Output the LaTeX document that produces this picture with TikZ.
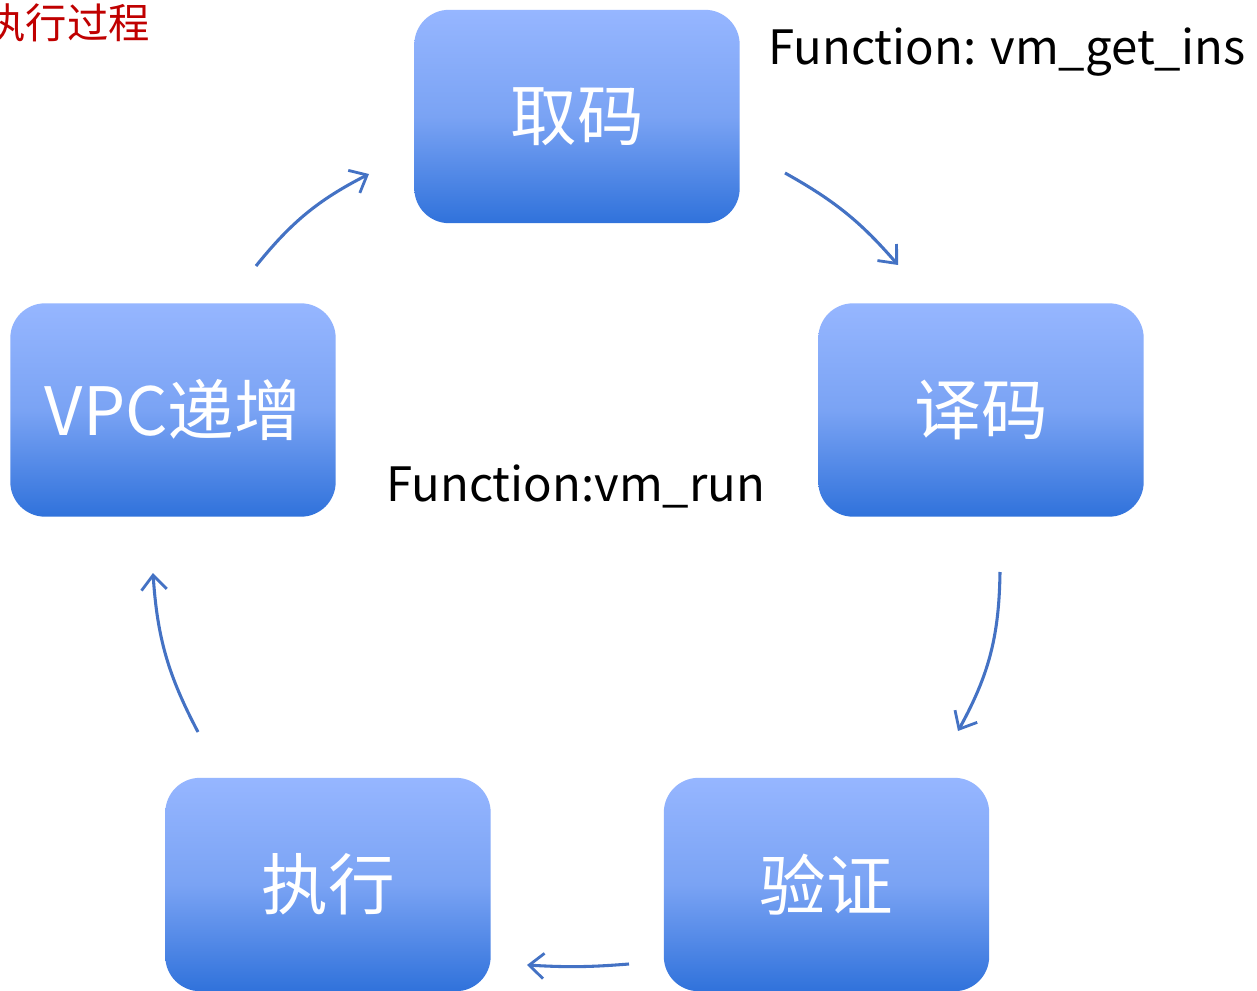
\documentclass[tikz,border=0pt]{standalone}
\usepackage{fontspec}
\setmainfont{Noto Sans CJK SC}
\newfontfamily\cjk{Noto Sans CJK SC}
\usetikzlibrary{arrows.meta}
\definecolor{boxtop}{RGB}{150,182,255}
\definecolor{boxmid}{RGB}{122,163,244}
\definecolor{boxbot}{RGB}{48,114,219}
\definecolor{arrowblue}{RGB}{68,114,196}
\definecolor{titlered}{RGB}{192,0,0}
\tikzset{
  stagebox/.style={rounded corners=26pt, minimum width=244pt, minimum height=160pt,
    top color=boxtop, bottom color=boxbot, middle color=boxmid, inner sep=0pt,
    text=white, font=\cjk\fontsize{50}{60}\selectfont},
  flow/.style={draw=arrowblue, line width=2.3pt, -{Straight Barb[length=11pt,width=19pt,line width=2.1pt]}},
  label/.style={font=\fontsize{35.5}{42}\selectfont, inner sep=0pt, anchor=west}
}
\begin{document}
\begin{tikzpicture}[x=0.75pt,y=-0.75pt]
\useasboundingbox (0,0) rectangle (1257,991);
\fill[white] (0,0) rectangle (1257,991);
\node[stagebox] (fetch) at (577,116.5) {取码};
\node[stagebox] (decode) at (981,410) {译码};
\node[stagebox] (vpc) at (173,410) {VPC递增};
\node[stagebox] (exec) at (328,884.5) {执行};
\node[stagebox] (verify) at (826.5,884.5) {验证};
\node[label] (runlbl) at (386,486) {Function:vm\_run};
\node[label] (getlbl) at (768,52) {Function: vm\_get\_ins};
\node[font=\cjk\fontsize{31}{36}\selectfont, text=titlered, inner sep=0pt, anchor=east] (title) at (150,23) {执行过程};
\coordinate (a1s) at (256,266); \coordinate (a1e) at (369,174);
\coordinate (a2s) at (785,173); \coordinate (a2e) at (898,265);
\coordinate (a3s) at (1000,572); \coordinate (a3e) at (958,731);
\coordinate (a4s) at (629,964); \coordinate (a4e) at (527,965);
\coordinate (a5s) at (198,732); \coordinate (a5e) at (153,573);
\draw[flow] (a1s) to[bend left=12] (a1e);
\draw[flow] (a2s) to[bend left=10] (a2e);
\draw[flow] (a3s) to[bend left=14] (a3e);
\draw[flow] (a4s) to[bend left=4] (a4e);
\draw[flow] (a5s) to[bend left=12] (a5e);
\end{tikzpicture}
\end{document}
